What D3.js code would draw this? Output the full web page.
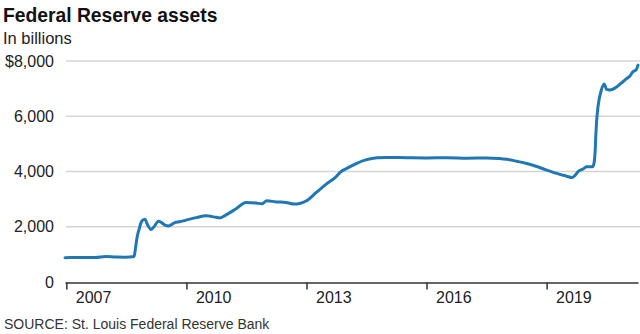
<!DOCTYPE html>
<html>
<head>
<meta charset="utf-8">
<script src="https://cdn.jsdelivr.net/npm/d3@7"></script>
<style>
  html, body { margin: 0; padding: 0; background: #fff; }
  svg { display: block; font-family: "Liberation Sans", Arial, sans-serif; }
</style>
</head>
<body>
<svg id="chart" width="640" height="334"></svg>
<script>
// Federal Reserve total assets, billions of dollars
const dates = [
  "2006-12-20", "2007-03-28", "2007-06-27", "2007-09-26", "2007-12-26",
  "2008-03-26", "2008-06-25", "2008-09-10", "2008-09-24", "2008-10-08",
  "2008-10-29", "2008-11-19", "2008-12-17", "2009-01-14", "2009-02-11",
  "2009-03-11", "2009-04-22", "2009-05-20", "2009-06-24", "2009-07-22",
  "2009-09-16", "2009-10-28", "2009-12-30", "2010-03-31", "2010-06-30",
  "2010-09-29", "2010-11-03", "2010-12-29", "2011-03-30", "2011-06-29",
  "2011-09-28", "2011-11-23", "2012-01-04", "2012-03-28", "2012-06-27",
  "2012-09-12", "2012-10-31", "2013-01-02", "2013-04-03", "2013-07-03",
  "2013-09-25", "2013-11-13", "2014-01-08", "2014-03-26", "2014-06-25",
  "2014-10-08", "2015-01-07", "2015-07-01", "2016-01-06", "2016-07-06",
  "2017-01-04", "2017-07-05", "2017-10-25", "2018-01-03", "2018-04-04",
  "2018-07-04", "2018-10-03", "2019-01-02", "2019-04-03", "2019-07-03",
  "2019-08-21", "2019-09-18", "2019-10-16", "2019-12-04", "2020-01-01",
  "2020-02-26", "2020-03-11", "2020-03-18", "2020-03-25", "2020-04-01",
  "2020-04-15", "2020-05-13", "2020-06-10", "2020-07-01", "2020-07-29",
  "2020-09-30", "2020-10-28", "2020-11-25", "2020-12-30", "2021-01-27",
  "2021-02-24", "2021-03-31", "2021-04-14"
];
const assets = [
   880,  885,  890,  885,  920,
   905,  900,  920, 1250, 1620,
  1950, 2200, 2270, 2050, 1900,
  2000, 2200, 2150, 2050, 2030,
  2150, 2180, 2240, 2330, 2400,
  2340, 2320, 2430, 2650, 2880,
  2860, 2830, 2940, 2900, 2880,
  2820, 2840, 2940, 3250, 3550,
  3800, 4000, 4120, 4280, 4420,
  4500, 4510, 4500, 4490, 4500,
  4480, 4490, 4470, 4440, 4370,
  4290, 4180, 4050, 3930, 3830,
  3780, 3860, 4000, 4100, 4170,
  4170, 4360, 4670, 5300, 5810,
  6370, 6930, 7170, 6970, 6950,
  7060, 7150, 7240, 7360, 7440,
  7600, 7700, 7850
];
const yTicks = [0, 2000, 4000, 6000, 8000];
const xTickYears = [2007, 2010, 2013, 2016, 2019];

const title = "Federal Reserve assets";
const subtitle = "In billions";
const source = "SOURCE: St. Louis Federal Reserve Bank";

const parse = d3.timeParse("%Y-%m-%d");
const series = dates.map((d, i) => ({ date: parse(d), value: assets[i] }));

const svg = d3.select("#chart");

const x = d3.scaleTime()
  .domain([parse(dates[0]), parse(dates[dates.length - 1])])
  .range([65, 638]);
const y = d3.scaleLinear().domain([0, 8000]).range([282, 61]);

// Titles
svg.append("text").attr("x", 3).attr("y", 22)
  .attr("font-size", 19.3).attr("font-weight", "bold").attr("fill", "#111")
  .text(title);
svg.append("text").attr("x", 3).attr("y", 44)
  .attr("font-size", 16.5).attr("fill", "#222")
  .text(subtitle);

// Horizontal gridlines
svg.append("g")
  .selectAll("line")
  .data(yTicks.filter(v => v > 0))
  .join("line")
  .attr("x1", 66).attr("x2", 640)
  .attr("y1", d => y(d)).attr("y2", d => y(d))
  .attr("stroke", "#d4d4d4").attr("stroke-width", 1.5);

// Y labels
const fmt = d3.format(",");
svg.append("g")
  .selectAll("text")
  .data(yTicks)
  .join("text")
  .attr("x", 54)
  .attr("y", d => y(d) + 5.5)
  .attr("text-anchor", "end")
  .attr("font-size", 16)
  .attr("fill", "#222")
  .text(d => d === 8000 ? "$" + fmt(d) : fmt(d));

// X axis
const xAxis = d3.axisBottom(x)
  .tickValues(xTickYears.map(yr => new Date(yr, 0, 1)))
  .tickFormat(d3.timeFormat("%Y"))
  .tickSize(7)
  .tickSizeOuter(0);
const gx = svg.append("g").attr("transform", "translate(0,282.5)").call(xAxis);
gx.select(".domain").attr("stroke", "#333").attr("stroke-width", 1.5);
gx.selectAll(".tick line").attr("stroke", "#333").attr("stroke-width", 1.5);
gx.selectAll(".tick text")
  .attr("text-anchor", "start")
  .attr("x", 9).attr("y", 20).attr("dy", 0)
  .attr("font-size", 16)
  .attr("font-family", "Liberation Sans, Arial, sans-serif")
  .attr("fill", "#222");

// Asset line
const line = d3.line()
  .x(d => x(d.date))
  .y(d => y(d.value))
  .curve(d3.curveMonotoneX);
svg.append("path")
  .datum(series)
  .attr("d", line)
  .attr("fill", "none")
  .attr("stroke", "#1f77b4")
  .attr("stroke-width", 3)
  .attr("stroke-linejoin", "round")
  .attr("stroke-linecap", "round");

// Source
svg.append("text").attr("x", 4).attr("y", 329)
  .attr("font-size", 14).attr("fill", "#333")
  .text(source);
</script>
</body>
</html>
